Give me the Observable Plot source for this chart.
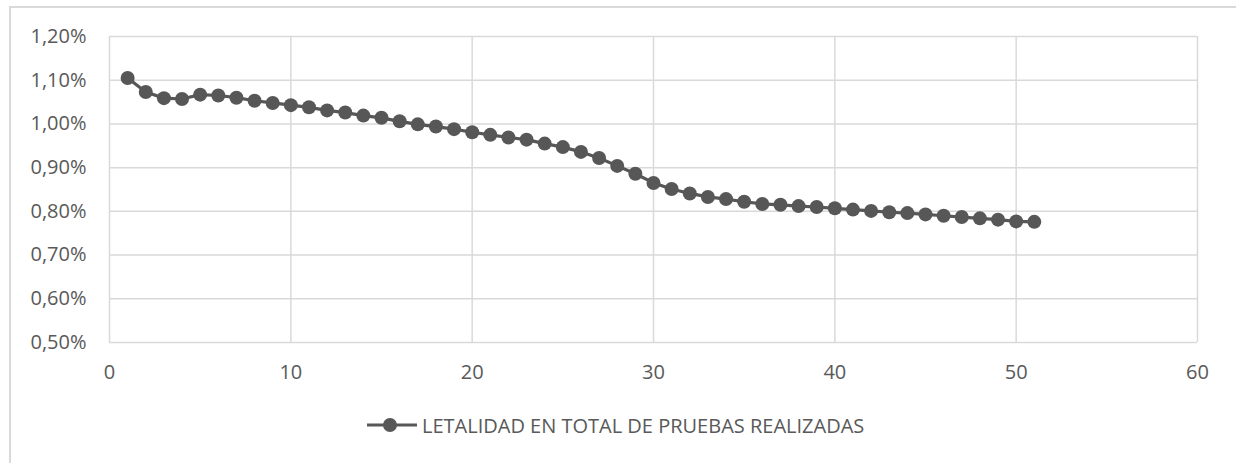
<!DOCTYPE html>
<html>
<head>
<meta charset="utf-8">
<script src="https://cdn.jsdelivr.net/npm/d3@7"></script>
<script src="https://cdn.jsdelivr.net/npm/@observablehq/plot@0.6"></script>
<style>
  html, body { margin: 0; padding: 0; background: #fff; overflow: hidden; }
  body { width: 1236px; height: 463px; position: relative; font-family: "Open Sans", sans-serif; }
  #frame { position: absolute; left: 9px; top: 6px; width: 3000px; height: 3000px;
           border-left: 2px solid #d9d9d9; border-top: 2px solid #d9d9d9; box-sizing: border-box; }
  #chart { position: absolute; left: 0; top: 0; }
  #legend { position: absolute; left: 367px; top: 400px; height: 50px; display: flex; align-items: center;
            color: #595959; font-size: 20px; white-space: nowrap; }
  #legend svg { margin-right: 5px; }
</style>
</head>
<body>
<div id="frame"></div>
<div id="chart"></div>
<div id="legend"></div>
<script>
const seriesName = "LETALIDAD EN TOTAL DE PRUEBAS REALIZADAS";
const days = [1,2,3,4,5,6,7,8,9,10,11,12,13,14,15,16,17,18,19,20,21,22,23,24,25,26,27,28,29,30,31,32,33,34,35,36,37,38,39,40,41,42,43,44,45,46,47,48,49,50,51];
const lethality = [1.105,1.073,1.059,1.057,1.067,1.065,1.060,1.053,1.048,1.043,
                   1.038,1.031,1.026,1.019,1.014,1.006,0.999,0.994,0.988,0.981,
                   0.975,0.969,0.964,0.955,0.947,0.936,0.922,0.904,0.886,0.865,
                   0.851,0.841,0.833,0.828,0.822,0.817,0.815,0.812,0.810,0.807,
                   0.804,0.801,0.798,0.796,0.793,0.790,0.787,0.784,0.781,0.777,0.776];
const xTicks = [0,10,20,30,40,50,60];
const yTicks = [0.5,0.6,0.7,0.8,0.9,1.0,1.1,1.2];

const data = days.map((d, i) => ({day: d, value: lethality[i]}));
const lineColor = "#575757";
const gridColor = "#d9d9d9";
const fmtY = v => v.toFixed(2).replace(".", ",") + "%";

const chart = Plot.plot({
  width: 1236,
  height: 400,
  marginLeft: 109,
  marginRight: 39,
  marginTop: 36,
  marginBottom: 58,
  style: {fontFamily: "'Open Sans', sans-serif", fontSize: "20px", color: "#595959", background: "transparent"},
  x: {domain: [0, 60]},
  y: {domain: [0.5, 1.2]},
  marks: [
    Plot.gridX(xTicks, {stroke: gridColor, strokeOpacity: 1, strokeWidth: 1.5}),
    Plot.gridY(yTicks, {stroke: gridColor, strokeOpacity: 1, strokeWidth: 1.5}),
    Plot.axisX(xTicks, {tickSize: 0, tickPadding: 22, label: null, tickFormat: d => String(d)}),
    Plot.axisY(yTicks, {tickSize: 0, tickPadding: 23, label: null, tickFormat: fmtY}),
    Plot.line(data, {x: "day", y: "value", stroke: lineColor, strokeWidth: 3.2}),
    Plot.dot(data, {x: "day", y: "value", r: 7, fill: lineColor, stroke: null})
  ]
});
document.getElementById("chart").appendChild(chart);

const legend = document.getElementById("legend");
legend.innerHTML = `<svg width="50" height="20" viewBox="0 0 50 20">
  <line x1="0" y1="10" x2="50" y2="10" stroke="${lineColor}" stroke-width="3.2"/>
  <circle cx="23" cy="10" r="7" fill="${lineColor}"/>
</svg><span>${seriesName}</span>`;
</script>
</body>
</html>
